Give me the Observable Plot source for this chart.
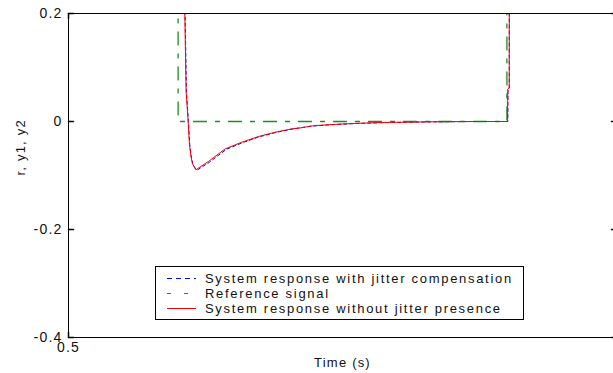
<!DOCTYPE html>
<html><head><meta charset="utf-8">
<script src="https://cdn.jsdelivr.net/npm/d3@7"></script>
<script src="https://cdn.jsdelivr.net/npm/@observablehq/plot@0.6"></script>
<style>
html,body{margin:0;padding:0;background:#fff;overflow:hidden;}
#wrap{position:relative;width:613px;height:373px;overflow:hidden;}
#legend{position:absolute;left:155px;top:266px;width:369px;height:54px;border:1px solid #000;background:#fff;box-sizing:border-box;font-family:"Liberation Sans",Arial,sans-serif;font-size:13px;letter-spacing:1.7px;color:#111;}
.row{position:absolute;left:0;height:15px;width:100%;}
.row svg{position:absolute;left:10px;top:0;}
.row span{position:absolute;left:49px;top:0;line-height:15px;white-space:nowrap;}
</style>
</head><body>
<div id="wrap"><div id="chart"></div><div id="legend"></div></div>
<script>
// Series: system response with jitter compensation (y1, blue dashed)
const tBlue = [0.5, 0.6061, 0.6064, 0.6076, 0.6094, 0.6106, 0.6119, 0.6134, 0.6163, 0.6170, 0.6285, 0.6440, 0.6590, 0.6740, 0.6890, 0.7045, 0.7135, 0.7230, 0.7390, 0.7600, 0.7860, 0.8310, 0.8700, 0.9008, 0.9010, 0.9022, 0.9024, 1.0];
const y1 = [1, 1, 0.2, 0.055, 0.0, -0.042, -0.064, -0.079, -0.089, -0.0905, -0.0755, -0.0515, -0.0390, -0.0284, -0.0203, -0.0140, -0.0110, -0.0084, -0.0061, -0.0040, -0.0021, -0.0007, 0, 0, 0.058, 0.061, 1, 1];
// Reference signal (r, green dash-dot)
const tRef = [0.5, 0.6, 0.6, 0.9, 0.9, 1.0];
const r = [1, 1, 0, 0, 1, 1];
// System response without jitter presence (y2, red solid)
const tRed = [0.5, 0.6059, 0.6061, 0.6073, 0.6091, 0.6103, 0.6116, 0.6131, 0.6158, 0.6162, 0.6277, 0.6430, 0.6582, 0.6734, 0.6887, 0.7040, 0.7130, 0.7223, 0.7380, 0.7590, 0.7850, 0.8300, 0.8700, 0.9006, 0.9008, 0.9021, 0.9023, 1.0];
const y2 = [1, 1, 0.2, 0.057, 0.002, -0.041, -0.063, -0.078, -0.088, -0.0894, -0.074, -0.0506, -0.0383, -0.0278, -0.0198, -0.0135, -0.0115, -0.0080, -0.0058, -0.0037, -0.0019, -0.0006, 0, 0, 0.06, 0.062, 1, 1];

const xTicks = [0.5, 1];
const xLabelTicks = [0.5];
const xTickLabels = ["0.5"];
const yTicks = [0.2, 0, -0.2, -0.4];
const yTickLabels = ["0.2", "0", "-0.2", "-0.4"];
const seriesNames = ["System response with jitter compensation", "Reference signal", "System response without jitter presence"];
const seriesColors = ["#0000ff", "#1f8c1f", "#ff0000"];

const zip = (t, v) => t.map((d, i) => ({t: d, v: v[i]}));
const tickShape = {draw(context, l) { context.moveTo(0, 0); context.lineTo(0, -l); }};
const font = "Liberation Sans, Arial, sans-serif";

const chart = Plot.plot({
  width: 613, height: 373,
  marginLeft: 68, marginTop: 13, marginBottom: 36, marginRight: -3,
  style: {fontFamily: font, background: "white", color: "#111"},
  x: {domain: [0.5, 1], axis: null},
  y: {domain: [-0.4, 0.2], axis: null},
  marks: [
    Plot.line(zip(tBlue, y1), {x: "t", y: "v", stroke: seriesColors[0], strokeWidth: 1, strokeDasharray: "3,3", clip: true}),
    Plot.line(zip(tRef, r), {x: "t", y: "v", stroke: seriesColors[1], strokeWidth: 1.3, strokeDasharray: "13,9,4,9", clip: true}),
    Plot.line(zip(tRed, y2), {x: "t", y: "v", stroke: seriesColors[2], strokeWidth: 1, clip: true}),
    Plot.frame({stroke: "#000", strokeWidth: 1}),
    Plot.vector(yTicks, {y: d => d, frameAnchor: "left", rotate: 90, length: 5, anchor: "start", shape: tickShape, stroke: "#000"}),
    Plot.vector(yTicks, {y: d => d, frameAnchor: "right", rotate: 270, length: 5, anchor: "start", shape: tickShape, stroke: "#000"}),
    Plot.vector(xTicks, {x: d => d, frameAnchor: "bottom", rotate: 0, length: 5, anchor: "start", shape: tickShape, stroke: "#000"}),
    Plot.vector(xTicks, {x: d => d, frameAnchor: "top", rotate: 180, length: 5, anchor: "start", shape: tickShape, stroke: "#000"}),
    Plot.text(yTicks, {y: d => d, text: (d, i) => yTickLabels[i], frameAnchor: "left", textAnchor: "end", dx: -6, fontSize: 14, fill: "#111"}),
    Plot.text(xLabelTicks, {x: d => d, text: (d, i) => xTickLabels[i], frameAnchor: "bottom", dy: 14, fontSize: 14, fill: "#111"}),
    Plot.text(["r, y1, y2"], {frameAnchor: "left", dx: -48, rotate: -90, fontSize: 13, fill: "#111"}),
    Plot.text(["Time (s)"], {frameAnchor: "bottom", dy: 29, fontSize: 13, fill: "#111"})
  ]
});
d3.select(chart).selectAll("text").style("letter-spacing", "1.2px");
document.getElementById("chart").appendChild(chart);

// Legend
const legend = document.getElementById("legend");
const dashes = ["5,4", "4,13", null];
seriesNames.forEach((name, i) => {
  const row = document.createElement("div");
  row.className = "row";
  row.style.top = (4 + i * 15) + "px";
  const ns = "http://www.w3.org/2000/svg";
  const svg = document.createElementNS(ns, "svg");
  svg.setAttribute("width", 32); svg.setAttribute("height", 15);
  const ln = document.createElementNS(ns, "line");
  ln.setAttribute("x1", 1); ln.setAttribute("x2", 30);
  ln.setAttribute("y1", 7.5); ln.setAttribute("y2", 7.5);
  ln.setAttribute("stroke", seriesColors[i]);
  if (dashes[i]) ln.setAttribute("stroke-dasharray", dashes[i]);
  svg.appendChild(ln);
  const sp = document.createElement("span");
  sp.textContent = name;
  row.appendChild(svg); row.appendChild(sp);
  legend.appendChild(row);
});
</script>
</body></html>
